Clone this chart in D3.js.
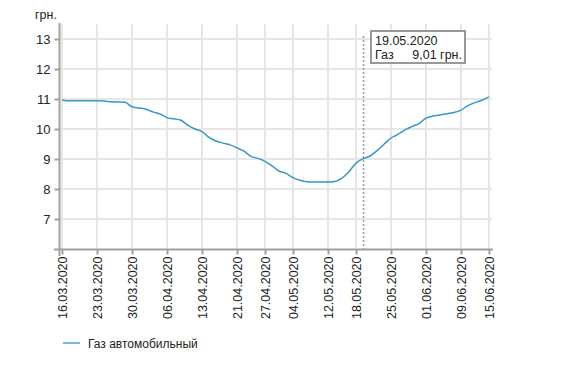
<!DOCTYPE html>
<html>
<head>
<meta charset="utf-8">
<script src="https://cdn.jsdelivr.net/npm/d3@7"></script>
<style>
  body { margin: 0; background: #fff; }
  text { font-family: "Liberation Sans", Arial, sans-serif; fill: #222; }
</style>
</head>
<body>
<div class="chart"></div>
<script>
// working days, 16.03.2020 - 15.06.2020
var dates = [
  "16.03.2020","17.03.2020","18.03.2020","19.03.2020","20.03.2020",
  "23.03.2020","24.03.2020","25.03.2020","26.03.2020","27.03.2020",
  "30.03.2020","31.03.2020","01.04.2020","02.04.2020","03.04.2020",
  "06.04.2020","07.04.2020","08.04.2020","09.04.2020","10.04.2020",
  "13.04.2020","14.04.2020","15.04.2020","16.04.2020","17.04.2020",
  "21.04.2020","22.04.2020","23.04.2020","24.04.2020",
  "27.04.2020","28.04.2020","29.04.2020","30.04.2020",
  "04.05.2020","05.05.2020","06.05.2020","07.05.2020","08.05.2020",
  "12.05.2020","13.05.2020","14.05.2020","15.05.2020",
  "18.05.2020","19.05.2020","20.05.2020","21.05.2020","22.05.2020",
  "25.05.2020","26.05.2020","27.05.2020","28.05.2020","29.05.2020",
  "01.06.2020","02.06.2020","03.06.2020","04.06.2020","05.06.2020",
  "09.06.2020","10.06.2020","11.06.2020","12.06.2020",
  "15.06.2020"
];

var gasPrices = [
  10.97, 10.94, 10.94, 10.94, 10.94,
  10.94, 10.93, 10.91, 10.90, 10.89,
  10.74, 10.70, 10.66, 10.57, 10.50,
  10.38, 10.34, 10.29, 10.12, 10.00,
  9.91, 9.72, 9.60, 9.53, 9.47,
  9.37, 9.26, 9.09, 9.02,
  8.92, 8.77, 8.60, 8.52,
  8.38, 8.29, 8.24, 8.23, 8.23,
  8.23, 8.25, 8.36, 8.58,
  8.86, 9.01, 9.10, 9.28, 9.49,
  9.70, 9.82, 9.97, 10.08, 10.18,
  10.36, 10.43, 10.47, 10.51, 10.55,
  10.63, 10.78, 10.88, 10.96,
  11.07
];

var tickDates = [
  "16.03.2020","23.03.2020","30.03.2020","06.04.2020","13.04.2020",
  "21.04.2020","27.04.2020","04.05.2020","12.05.2020","18.05.2020",
  "25.05.2020","01.06.2020","09.06.2020","15.06.2020"
];
var yTicks = [7, 8, 9, 10, 11, 12, 13];

var seriesName = "Газ автомобильный";
var unit = "грн.";
var hoverDate = "19.05.2020";

var W = 579, H = 365;
var svg = d3.select(".chart").append("svg")
  .attr("width", W).attr("height", H);

var x = d3.scalePoint().domain(dates).range([62, 489]);
var y = d3.scaleLinear().domain([6, 13.5]).range([249, 24]);

// grid
svg.append("g").selectAll("line.v").data(tickDates).enter().append("line")
  .attr("x1", function(d){ return x(d); }).attr("x2", function(d){ return x(d); })
  .attr("y1", 24).attr("y2", 249)
  .attr("stroke", "#e6e6e6").attr("stroke-width", 2);

svg.append("g").selectAll("line.h").data(yTicks).enter().append("line")
  .attr("x1", 60).attr("x2", 492)
  .attr("y1", function(d){ return y(d); }).attr("y2", function(d){ return y(d); })
  .attr("stroke", "#e6e6e6").attr("stroke-width", 2);

// y axis
var yAxis = svg.append("g")
  .attr("transform", "translate(59.5,0)")
  .call(d3.axisLeft(y).tickValues(yTicks).tickSize(5).tickPadding(4));
yAxis.select(".domain").attr("d", "M0,23V256").attr("stroke", "#a0a0a0").attr("stroke-width", 2);
yAxis.selectAll(".tick line").attr("stroke", "#a0a0a0").attr("stroke-width", 2);
yAxis.selectAll(".tick text").style("font-size", "13px")
  .style("font-family", "Liberation Sans, Arial, sans-serif").attr("fill", "#222");

// x axis
var xAxis = svg.append("g")
  .attr("transform", "translate(0,249.5)")
  .call(d3.axisBottom(x).tickValues(tickDates).tickSize(5).tickPadding(4));
xAxis.select(".domain").attr("d", "M54,0H493").attr("stroke", "#a0a0a0").attr("stroke-width", 2);
xAxis.selectAll(".tick line").attr("stroke", "#a0a0a0").attr("stroke-width", 2);
xAxis.selectAll(".tick text")
  .style("font-size", "12.5px")
  .style("font-family", "Liberation Sans, Arial, sans-serif")
  .attr("fill", "#222")
  .attr("transform", "rotate(-90)")
  .attr("text-anchor", "end")
  .attr("x", -7).attr("y", 0).attr("dy", "0.35em");

// unit label
svg.append("text").attr("x", 35).attr("y", 19)
  .style("font-size", "12.5px").text(unit);

// series line
var line = d3.line()
  .x(function(d, i){ return x(dates[i]); })
  .y(function(d){ return y(d); })
  .curve(d3.curveMonotoneX);

svg.append("path").datum(gasPrices)
  .attr("d", line)
  .attr("fill", "none")
  .attr("stroke", "#3a96c5")
  .attr("stroke-width", 1.5);

// hover marker + tooltip
var hi = dates.indexOf(hoverDate);
var hx = Math.round(x(hoverDate)) + 0.5;
svg.append("line")
  .attr("x1", hx).attr("x2", hx).attr("y1", 36).attr("y2", 249)
  .attr("stroke", "#999").attr("stroke-width", 1.5)
  .attr("stroke-dasharray", "2,2");

var tip = svg.append("g").attr("transform", "translate(371,31)");
tip.append("rect").attr("width", 94).attr("height", 32)
  .attr("fill", "#fff").attr("stroke", "#999").attr("stroke-width", 2);
tip.append("text").attr("x", 4).attr("y", 14)
  .style("font-size", "12.5px").text(hoverDate);
tip.append("text").attr("x", 4).attr("y", 28)
  .style("font-size", "12.5px").text("Газ");
tip.append("text").attr("x", 91).attr("y", 28).attr("text-anchor", "end")
  .style("font-size", "12.5px")
  .text(d3.format(".2f")(gasPrices[hi]).replace(".", ",") + " " + unit);

// legend
var lg = svg.append("g").attr("transform", "translate(63,343)");
lg.append("line").attr("x1", 0).attr("x2", 17).attr("y1", 0).attr("y2", 0)
  .attr("stroke", "#7fb7d8").attr("stroke-width", 2);
lg.append("text").attr("x", 25).attr("y", 4.5)
  .style("font-size", "12px").text(seriesName);
</script>
</body>
</html>
